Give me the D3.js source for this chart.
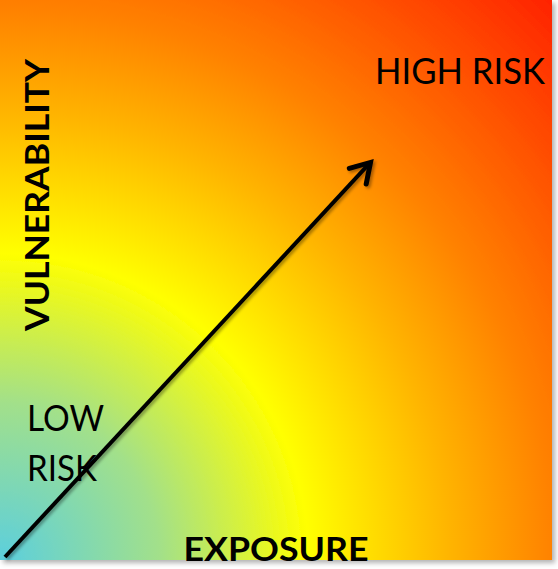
<!DOCTYPE html>
<html><head><meta charset="utf-8">
<script src="https://cdn.jsdelivr.net/npm/d3@7"></script>
<style>html,body{margin:0;padding:0;background:#fff;}svg{display:block;}</style>
</head><body>
<script>
// Data
const axisLabels = ["EXPOSURE", "VULNERABILITY"];
const cornerLabels = [["HIGH RISK"], ["LOW", "RISK"]];
const gradientOffsets = [0, 0.2, 0.39, 0.57, 0.7, 1];
const gradientColors = ["#5ccfdd", "#a2e08a", "#ffff00", "#ffb400", "#ff8200", "#ff2200"];
const arrowStart = [0, 0];
const arrowEnd = [0.67, 0.71];

const W = 558, H = 569;
const svg = d3.select("body").append("svg").attr("width", W).attr("height", H);
const x = d3.scaleLinear().domain([0, 1]).range([2, 552]);
const y = d3.scaleLinear().domain([0, 1]).range([560, 0]);

const defs = svg.append("defs");
const grad = defs.append("radialGradient").attr("id", "g")
  .attr("gradientUnits", "userSpaceOnUse")
  .attr("cx", x(0)).attr("cy", y(0)).attr("r", 786);
grad.selectAll("stop").data(gradientOffsets).join("stop")
  .attr("offset", d => d).attr("stop-color", (d, i) => gradientColors[i]);

const sh = defs.append("filter").attr("id", "sh").attr("x", "-20%").attr("y", "-20%").attr("width", "140%").attr("height", "140%");
sh.append("feDropShadow").attr("dx", 2).attr("dy", 2).attr("stdDeviation", 1.5).attr("flood-color", "#000").attr("flood-opacity", 0.35);
const bsh = defs.append("filter").attr("id", "bsh").attr("x", "-5%").attr("y", "-5%").attr("width", "110%").attr("height", "110%");
bsh.append("feDropShadow").attr("dx", 3).attr("dy", 3).attr("stdDeviation", 2.5).attr("flood-color", "#000").attr("flood-opacity", 0.3);

svg.append("rect").attr("x", 0).attr("y", 0).attr("width", x(1)).attr("height", y(0))
  .attr("fill", "url(#g)").attr("filter", "url(#bsh)");

// Axes
svg.append("line").attr("x1", x(0)).attr("x2", x(0)).attr("y1", 0).attr("y2", y(0) + 4)
  .attr("stroke", "#000").attr("stroke-width", 4).attr("filter", "url(#sh)");
svg.append("line").attr("x1", 0).attr("x2", 549).attr("y1", y(0) + 2).attr("y2", y(0) + 2)
  .attr("stroke", "#000").attr("stroke-width", 4).attr("filter", "url(#sh)");

// Arrow
const ag = svg.append("g").attr("filter", "url(#sh)");
const x1 = x(arrowStart[0]) + 3, y1 = y(arrowStart[1]) - 3;
const x2 = x(arrowEnd[0]), y2 = y(arrowEnd[1]);
ag.append("line").attr("x1", x1).attr("y1", y1).attr("x2", x2 - 1).attr("y2", y2 + 1)
  .attr("stroke", "#000").attr("stroke-width", 4);
const ang = Math.atan2(y2 - y1, x2 - x1);
const L = 22, spread = 0.55;
const p = [
  [x2 - L * Math.cos(ang - spread), y2 - L * Math.sin(ang - spread)],
  [x2, y2],
  [x2 - L * Math.cos(ang + spread), y2 - L * Math.sin(ang + spread)]
];
ag.append("path").attr("d", d3.line()(p)).attr("fill", "none").attr("stroke", "#000")
  .attr("stroke-width", 5).attr("stroke-linecap", "round").attr("stroke-linejoin", "miter");

const font = "Lato, 'Open Sans', sans-serif";
const tg = svg.append("g").attr("font-family", font).attr("fill", "#000");
// High risk
tg.append("text").attr("x", 375).attr("y", 84).attr("font-size", 36)
  .attr("textLength", 170).attr("lengthAdjust", "spacingAndGlyphs").text(cornerLabels[0][0]);
// Low risk
const lowW = [77, 70];
tg.selectAll("text.low").data(cornerLabels[1]).join("text").attr("class", "low")
  .attr("x", 27).attr("y", (d, i) => 431 + i * 50).attr("font-size", 37)
  .attr("textLength", (d, i) => lowW[i]).attr("lengthAdjust", "spacingAndGlyphs").text(d => d);
// Axis titles
tg.append("text").attr("x", 276).attr("y", 561).attr("text-anchor", "middle")
  .attr("font-size", 33).attr("font-weight", "bold")
  .attr("textLength", 185).attr("lengthAdjust", "spacingAndGlyphs").text(axisLabels[0]);
tg.append("text").attr("transform", "translate(49,195) rotate(-90)").attr("text-anchor", "middle")
  .attr("font-size", 33).attr("font-weight", "bold")
  .attr("textLength", 272).attr("lengthAdjust", "spacingAndGlyphs").text(axisLabels[1]);
</script>
</body></html>
